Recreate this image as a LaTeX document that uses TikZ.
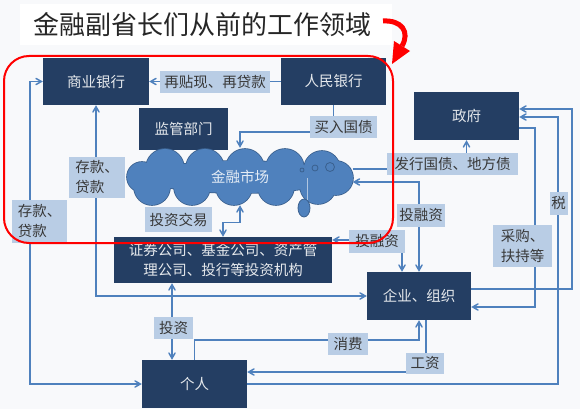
\documentclass[tikz,border=0pt]{standalone}
\usepackage{fontspec}
\setmainfont{Noto Sans CJK SC}
\usetikzlibrary{arrows}

\definecolor{navy}{RGB}{36,62,99}
\definecolor{tagblue}{RGB}{185,205,229}
\definecolor{flow}{RGB}{79,129,189}
\definecolor{cloudedge}{RGB}{58,96,142}
\definecolor{paper}{RGB}{248,249,251}

\begin{document}
\begin{tikzpicture}[x=1pt,y=-1pt,>=angle 60,
  box/.style={fill=navy,text=white!88!navy,inner sep=0pt,align=center,
    font=\fontsize{14.5}{20}\selectfont},
  tag/.style={fill=tagblue,text=black!78,inner sep=0pt,align=left,
    font=\fontsize{14.5}{20}\selectfont},
  flowline/.style={draw=flow,line width=1.5pt}]
\fill[paper] (0,0) rectangle (580,409);
\useasboundingbox (0,0) rectangle (580,409);

% title
\fill[white] (20,4) rectangle (392,45);
\node[text=black!85,font=\fontsize{26}{26}\selectfont] (title) at (202,25) {金融副省长们从前的工作领域};

% institutions
\node[box,minimum width=106pt,minimum height=47pt] (bank) at (96,81.5) {商业银行};
\node[box,minimum width=105pt,minimum height=47pt] (pboc) at (333.5,81.5) {人民银行};
\node[box,minimum width=89pt,minimum height=42pt] (regu) at (183.5,129) {监管部门};
\node[box,minimum width=105pt,minimum height=48pt] (gov) at (466.5,116) {政府};
\node[box,minimum width=218pt,minimum height=46pt] (inst) at (223,260) {证券公司、基金公司、资产管\\理公司、投行等投资机构};
\node[box,minimum width=104pt,minimum height=48pt] (firm) at (419,296) {企业、组织};
\node[box,minimum width=105pt,minimum height=48pt] (hh) at (194.5,384) {个人};

% market cloud
\draw[cloudedge,line width=1.6pt] (240,177) ellipse (95pt and 16pt);
\foreach \cx/\cy/\r in {165/168/19,205/168/19,245/168/19,285/168/19,322/169/18,
    152/187/18,192/187/18,234/187/18,276/187/18,318/186/18,142/177/15,336/178/17}
  \draw[cloudedge,line width=1.6pt] (\cx,\cy) circle (\r pt);
\fill[flow] (240,177) ellipse (95pt and 16pt);
\foreach \cx/\cy/\r in {165/168/19,205/168/19,245/168/19,285/168/19,322/169/18,
    152/187/18,192/187/18,234/187/18,276/187/18,318/186/18,142/177/15,336/178/17}
  \fill[flow] (\cx,\cy) circle (\r pt);
\node[minimum width=225pt,minimum height=57pt,inner sep=0pt,
  text=white!85!flow,font=\fontsize{14.5}{20}\selectfont] (mkt) at (240,176.5) {金融市场};
\draw[cloudedge,fill=flow,line width=0.8pt] (302,170) circle (2pt) (315,168) circle (3pt) (330,167) circle (4.5pt);
\draw[white!55!flow,line width=0.6pt] (307,178) -- (307,200);
\draw[cloudedge,fill=flow,line width=0.8pt] (304,208) ellipse (6pt and 9pt);

% flows
\draw[flowline,->] (pboc) -- (bank);
\draw[flowline,->] (pboc.south) -- ++(0,27) -| (mkt.north);
\draw[flowline,<->] (bank.south) |- (firm.west);
\draw[flowline,<->] (bank.west) -- ++(-13,0) |- (hh.west);
\draw[flowline,<->] (mkt.south) -- ++(0,17.5) -| (inst.north);
\draw[flowline,->] (mkt.east |- 0,169) -| (gov.south);
\draw[flowline,<->] (mkt.east |- 0,182) -| (firm.north);
\draw[flowline,<->] (inst.east |- 0,240) -| ([xshift=-17pt]firm.north);
\draw[flowline,->] (gov.east |- 0,128) -- ++(16,0) |- (firm.east |- 0,307);
\draw[flowline,->] (firm.east |- 0,289) -- ++(101,0) |- (gov.east |- 0,109);
\draw[flowline,->] (hh.east) -- ++(311,0) |- (gov.east |- 0,117);
\draw[flowline,->] (hh.north) -- ++(0,-20) -| (firm.south);
\draw[flowline,->] ([xshift=7pt]firm.south) |- (hh.east |- 0,372);
\draw[flowline,<->] (inst.south -| 172,0) -- (hh.north -| 172,0);

% flow labels
\node[tag,minimum width=110pt,minimum height=22pt] (l1) at (215,82) {再贴现、再贷款};
\node[tag,minimum width=67pt,minimum height=22pt] (l2) at (343.5,127) {买入国债};
\node[tag,minimum width=56pt,minimum height=41pt] (l3) at (97,177.5) {存款、\\贷款};
\node[tag,minimum width=55pt,minimum height=43pt] (l4) at (39.5,221.5) {存款、\\贷款};
\node[tag,minimum width=67pt,minimum height=25pt] (l5) at (178.5,219.5) {投资交易};
\node[tag,minimum width=131pt,minimum height=22pt] (l6) at (452.5,164) {发行国债、地方债};
\node[tag,minimum width=48pt,minimum height=23pt] (l7) at (421,215.5) {投融资};
\node[tag,minimum width=56pt,minimum height=23pt] (l8) at (377,241.5) {投融资};
\node[tag,minimum width=18pt,minimum height=23pt] (l9) at (558.5,203.5) {税};
\node[tag,minimum width=59pt,minimum height=42pt] (l10) at (522.5,246) {采购、\\扶持等};
\node[tag,minimum width=39pt,minimum height=22pt] (l11) at (173.5,328) {投资};
\node[tag,minimum width=40pt,minimum height=22pt] (l12) at (348,344) {消费};
\node[tag,minimum width=38pt,minimum height=21pt] (l13) at (425,363) {工资};

% highlight
\draw[red,line width=2pt,rounded corners=25pt] (4,56) rectangle (393,243);
\draw[red,line width=5pt] (383,21) .. controls (402,20) and (410,32) .. (402,46);
\fill[red] (394,41) -- (410,51) -- (392,64) -- cycle;
\end{tikzpicture}
\end{document}
